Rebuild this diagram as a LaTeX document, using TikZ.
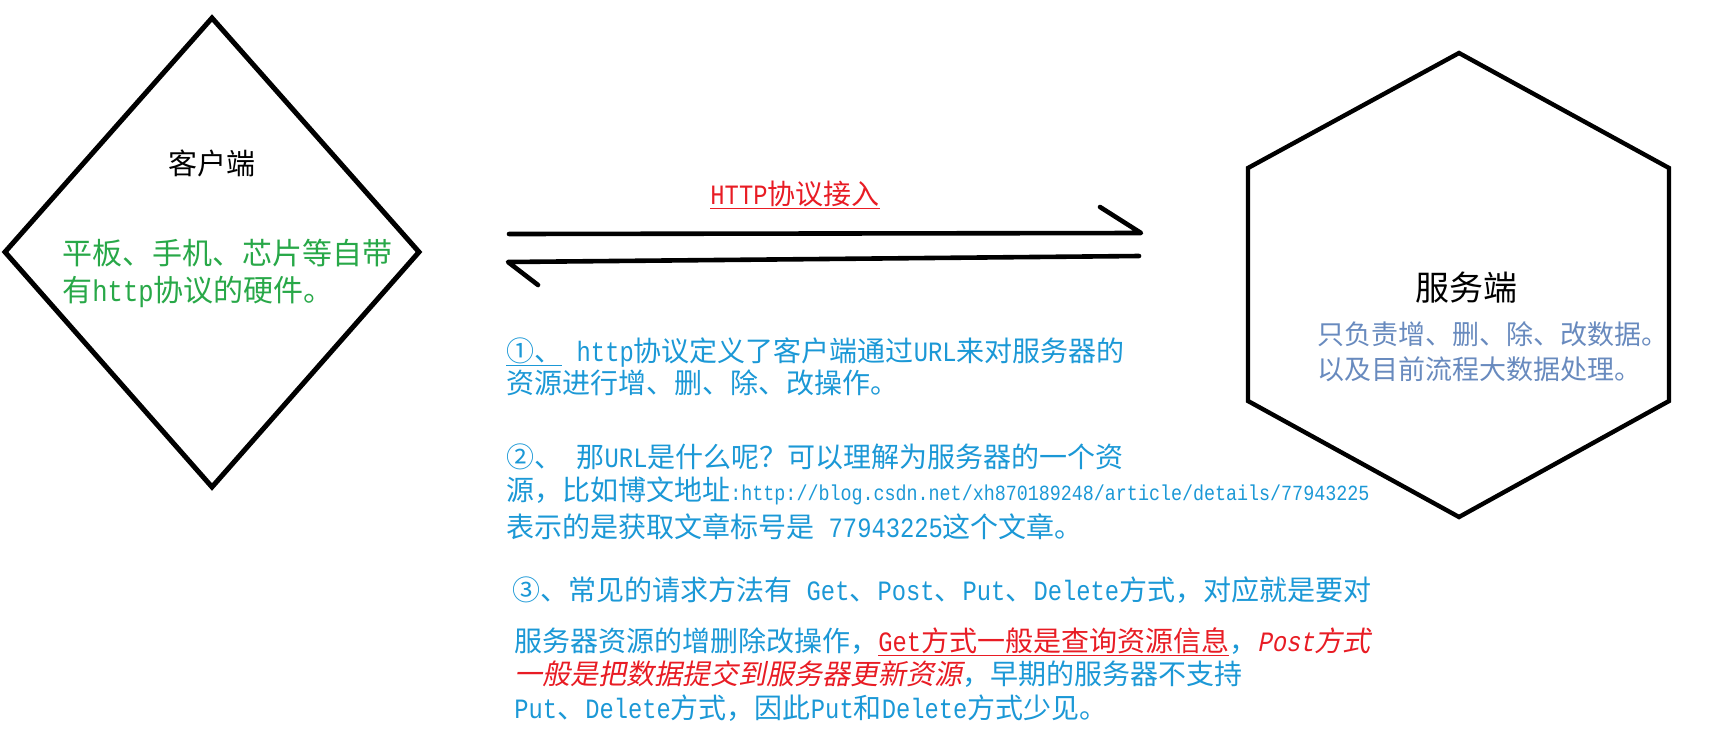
\documentclass[tikz,border=0pt]{standalone}
\usepackage{fontspec}
\setmainfont{Noto Sans CJK SC}
\newfontfamily\lat{Liberation Mono}[FakeStretch=0.85]
\newfontfamily\latit{Liberation Mono}[FakeStretch=0.85,FakeSlant=0.2]
\newfontfamily\cjkit{Noto Sans CJK SC}[FakeSlant=0.2]
\definecolor{cblue}{RGB}{27,152,214}
\definecolor{cgreen}{RGB}{40,168,72}
\definecolor{cred}{RGB}{232,28,36}
\definecolor{cgray}{RGB}{104,138,190}
\newcommand\myul[1]{\vtop{\hbox{#1}\kern0.6pt\hrule height0.9pt}}
\newcommand\urlf{\lat\fontsize{10.8pt}{13pt}\selectfont}
\tikzset{
  shapeline/.style={line width=2.5pt, line join=miter},
  arrowline/.style={line width=2.3pt, line cap=round, line join=round},
  txt/.style={anchor=base west, inner sep=0pt, text=cblue, font=\fontsize{14pt}{16pt}\selectfont},
}
\begin{document}
\begin{tikzpicture}[x=0.5pt,y=-0.5pt]
\useasboundingbox (0,0) rectangle (1716,745);
% client diamond
\coordinate (dT) at (212,18);
\coordinate (dR) at (419,252);
\coordinate (dB) at (212,487);
\coordinate (dL) at (5,252);
\draw[shapeline] (dT) -- (dR) -- (dB) -- (dL) -- cycle;
\node[anchor=base, inner sep=0pt, font=\fontsize{14.5pt}{16pt}\selectfont] (client) at (212,174) {客户端};
\node[anchor=base west, inner sep=0pt, text=cgreen, font=\fontsize{15pt}{17pt}\selectfont] (g1) at (62,264) {平板、手机、芯片等自带};
\node[anchor=base west, inner sep=0pt, text=cgreen, font=\fontsize{15pt}{17pt}\selectfont] (g2) at (62,301) {有{\lat http}协议的硬件。};
% server hexagon
\coordinate (hT) at (1459,53);
\coordinate (hUR) at (1669,168);
\coordinate (hLR) at (1669,401);
\coordinate (hB) at (1459,517);
\coordinate (hLL) at (1248,401);
\coordinate (hUL) at (1248,168);
\draw[line width=2.2pt, line join=miter] (hT) -- (hUR) -- (hLR) -- (hB) -- (hLL) -- (hUL) -- cycle;
\node[anchor=base, inner sep=0pt, font=\fontsize{17pt}{19pt}\selectfont] (server) at (1466,300) {服务端};
\node[anchor=base west, inner sep=0pt, text=cgray, font=\fontsize{13.5pt}{16pt}\selectfont] (s1) at (1317,344) {只负责增、删、除、改数据。};
\node[anchor=base west, inner sep=0pt, text=cgray, font=\fontsize{13.5pt}{16pt}\selectfont] (s2) at (1317,379) {以及目前流程大数据处理。};
% arrows
\node[anchor=base, inner sep=0pt, text=cred, font=\fontsize{14pt}{16pt}\selectfont] (http) at (795,204) {\myul{{\lat HTTP}协议接入}};
\coordinate (u1) at (509,234);
\coordinate (u2) at (1141,233);
\coordinate (u3) at (1100,207);
\draw[arrowline] (u1) -- (u2) -- (u3);
\coordinate (l1) at (1139,256);
\coordinate (l2) at (508,262);
\coordinate (l3) at (538,285);
\draw[arrowline] (l1) -- (l2) -- (l3);
% explanation text
\node[txt] (t1) at (506,361) {\myul{①、}{\lat\ http}协议定义了客户端通过{\lat URL}来对服务器的};
\node[txt] (t2) at (506,393) {资源进行增、删、除、改操作。};
\node[txt] (t3) at (506,467) {②、{\lat\ }那{\lat URL}是什么呢？可以理解为服务器的一个资};
\node[txt] (t4) at (506,500) {源，比如博文地址{\urlf :http://blog.csdn.net/xh870189248/article/details/77943225}};
\node[txt] (t5) at (506,537) {表示的是获取文章标号是{\lat\ 77943225}这个文章。};
\node[txt] (t6) at (512,600) {③、常见的请求方法有{\lat\ Get}、{\lat Post}、{\lat Put}、{\lat Delete}方式，对应就是要对};
\node[txt] (t7) at (514,651) {服务器资源的增删除改操作，{\color{cred}\myul{{\lat Get}方式一般是查询资源信息}}，{\color{cred}{\latit Post}{\cjkit 方式}}};
\node[txt] (t8) at (514,684) {{\color{cred}\cjkit 一般是把数据提交到服务器更新资源}，早期的服务器不支持};
\node[txt] (t9) at (514,718) {{\lat Put}、{\lat Delete}方式，因此{\lat Put}和{\lat Delete}方式少见。};
\end{tikzpicture}
\end{document}
